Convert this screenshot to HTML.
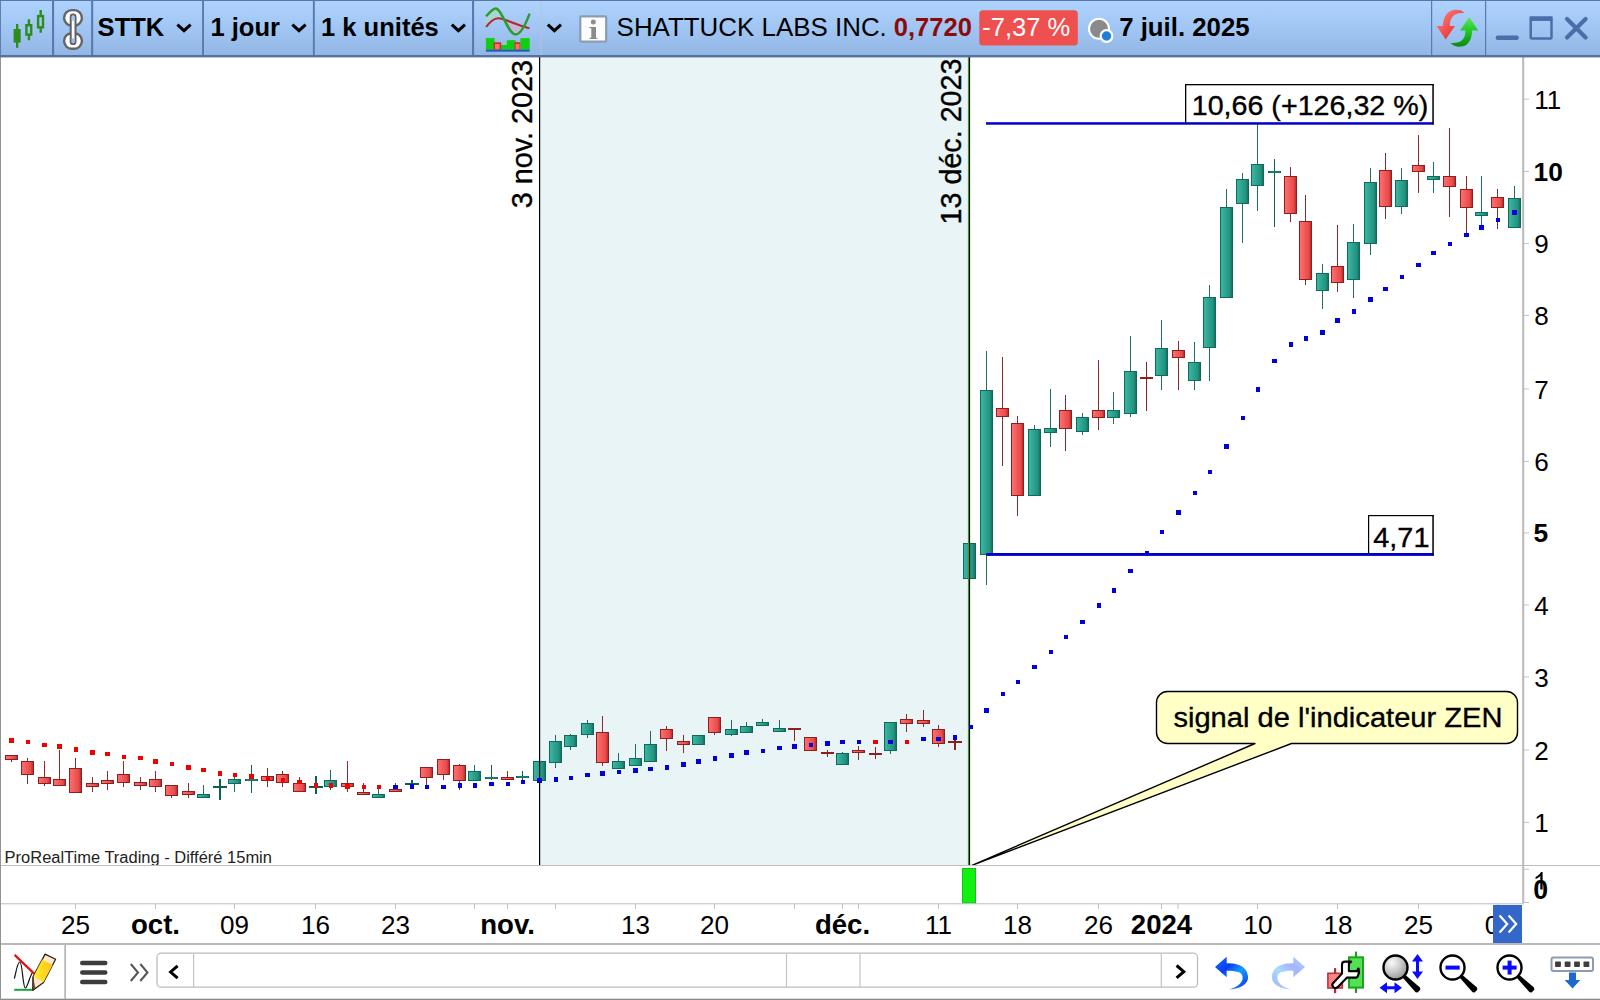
<!DOCTYPE html>
<html><head><meta charset="utf-8"><title>STTK</title>
<style>
html,body{margin:0;padding:0;background:#fff;width:1600px;height:1000px;overflow:hidden}
svg{display:block;position:absolute;left:0;top:0}
text{font-family:"Liberation Sans",sans-serif;}
.hv{stroke:#000;stroke-width:0.35px}
</style></head><body>
<svg width="1600" height="1000" viewBox="0 0 1600 1000">
<defs>
<linearGradient id="tb" x1="0" y1="0" x2="0" y2="1"><stop offset="0" stop-color="#aed3fd"/><stop offset="0.45" stop-color="#a2c7f4"/><stop offset="1" stop-color="#91b6e4"/></linearGradient>
<linearGradient id="gr" x1="0" y1="0" x2="1" y2="0"><stop offset="0" stop-color="#ff7070"/><stop offset="0.78" stop-color="#e64a4a"/><stop offset="1" stop-color="#b82020"/></linearGradient>
<linearGradient id="gg" x1="0" y1="0" x2="1" y2="0"><stop offset="0" stop-color="#3ab8a4"/><stop offset="0.78" stop-color="#23927f"/><stop offset="1" stop-color="#126a5a"/></linearGradient>
</defs>
<rect x="0" y="0" width="1600" height="1000" fill="#fff"/>

<rect x="540" y="57" width="428" height="808.5" fill="#e8f4f5"/>
<rect x="11" y="755" width="1" height="7" fill="#8b2a2a"/>
<rect x="5.5" y="755.5" width="12" height="4" fill="url(#gr)" stroke="#8e1f1f" stroke-width="1"/>
<rect x="27" y="758" width="1" height="26" fill="#8b2a2a"/>
<rect x="21.5" y="761.5" width="12" height="13" fill="url(#gr)" stroke="#8e1f1f" stroke-width="1"/>
<rect x="44" y="761" width="1" height="25" fill="#8b2a2a"/>
<rect x="38.5" y="777.5" width="12" height="6" fill="url(#gr)" stroke="#8e1f1f" stroke-width="1"/>
<rect x="59" y="750" width="1" height="36" fill="#8b2a2a"/>
<rect x="53.5" y="779.5" width="12" height="6" fill="url(#gr)" stroke="#8e1f1f" stroke-width="1"/>
<rect x="75" y="758" width="1" height="35" fill="#8b2a2a"/>
<rect x="69.5" y="768.5" width="12" height="24" fill="url(#gr)" stroke="#8e1f1f" stroke-width="1"/>
<rect x="92" y="777" width="1" height="15" fill="#8b2a2a"/>
<rect x="86.5" y="783.5" width="12" height="3" fill="url(#gr)" stroke="#8e1f1f" stroke-width="1"/>
<rect x="107" y="771" width="1" height="19" fill="#8b2a2a"/>
<rect x="101.5" y="780.5" width="12" height="3" fill="url(#gr)" stroke="#8e1f1f" stroke-width="1"/>
<rect x="123" y="761" width="1" height="26" fill="#8b2a2a"/>
<rect x="117.5" y="774.5" width="12" height="8" fill="url(#gr)" stroke="#8e1f1f" stroke-width="1"/>
<rect x="140" y="777" width="1" height="13" fill="#8b2a2a"/>
<rect x="134.5" y="782.5" width="12" height="3" fill="url(#gr)" stroke="#8e1f1f" stroke-width="1"/>
<rect x="155" y="771" width="1" height="21" fill="#8b2a2a"/>
<rect x="149.5" y="779.5" width="12" height="7" fill="url(#gr)" stroke="#8e1f1f" stroke-width="1"/>
<rect x="171" y="785" width="1" height="13" fill="#8b2a2a"/>
<rect x="165.5" y="785.5" width="12" height="10" fill="url(#gr)" stroke="#8e1f1f" stroke-width="1"/>
<rect x="188" y="783" width="1" height="15" fill="#8b2a2a"/>
<rect x="182.5" y="791.5" width="12" height="3" fill="url(#gr)" stroke="#8e1f1f" stroke-width="1"/>
<rect x="203" y="785" width="1" height="13" fill="#1a6f61"/>
<rect x="197.5" y="794.5" width="12" height="3" fill="url(#gg)" stroke="#0f6a5b" stroke-width="1"/>
<rect x="219" y="779" width="2" height="21" fill="#0e5f52"/>
<rect x="213" y="786" width="14" height="2" fill="#0e5f52"/>
<rect x="234" y="777" width="1" height="15" fill="#1a6f61"/>
<rect x="228.5" y="779.5" width="12" height="4" fill="url(#gg)" stroke="#0f6a5b" stroke-width="1"/>
<rect x="251" y="765" width="1" height="28" fill="#0e5f52"/>
<rect x="245" y="779" width="13" height="2" fill="#0e5f52"/>
<rect x="246" y="779.6" width="11" height="0.8" fill="#2aa592"/>
<rect x="267" y="768" width="1" height="19" fill="#8b2a2a"/>
<rect x="261.5" y="776.5" width="12" height="4" fill="url(#gr)" stroke="#8e1f1f" stroke-width="1"/>
<rect x="282" y="771" width="1" height="16" fill="#8b2a2a"/>
<rect x="276.5" y="774.5" width="12" height="8" fill="url(#gr)" stroke="#8e1f1f" stroke-width="1"/>
<rect x="299" y="777" width="1" height="15" fill="#8b2a2a"/>
<rect x="293.5" y="783.5" width="12" height="8" fill="url(#gr)" stroke="#8e1f1f" stroke-width="1"/>
<rect x="315" y="776" width="2" height="18" fill="#0e5f52"/>
<rect x="309" y="786" width="14" height="2" fill="#0e5f52"/>
<rect x="330" y="770" width="1" height="20" fill="#1a6f61"/>
<rect x="324.5" y="780.5" width="12" height="6" fill="url(#gg)" stroke="#0f6a5b" stroke-width="1"/>
<rect x="347" y="761" width="1" height="31" fill="#8b2a2a"/>
<rect x="341.5" y="783.5" width="12" height="3" fill="url(#gr)" stroke="#8e1f1f" stroke-width="1"/>
<rect x="363" y="783" width="1" height="12" fill="#8b2a2a"/>
<rect x="357.5" y="792.5" width="12" height="2" fill="url(#gr)" stroke="#8e1f1f" stroke-width="1"/>
<rect x="378" y="786" width="1" height="12" fill="#1a6f61"/>
<rect x="372.5" y="794.5" width="12" height="3" fill="url(#gg)" stroke="#0f6a5b" stroke-width="1"/>
<rect x="395" y="783" width="1" height="9" fill="#8b2a2a"/>
<rect x="389.5" y="789.5" width="12" height="2" fill="url(#gr)" stroke="#8e1f1f" stroke-width="1"/>
<rect x="411" y="780" width="2" height="8" fill="#0e5f52"/>
<rect x="405" y="783" width="14" height="2" fill="#0e5f52"/>
<rect x="426" y="767" width="1" height="19" fill="#8b2a2a"/>
<rect x="420.5" y="767.5" width="12" height="10" fill="url(#gr)" stroke="#8e1f1f" stroke-width="1"/>
<rect x="443" y="759" width="1" height="21" fill="#8b2a2a"/>
<rect x="437.5" y="759.5" width="12" height="15" fill="url(#gr)" stroke="#8e1f1f" stroke-width="1"/>
<rect x="459" y="764" width="1" height="26" fill="#8b2a2a"/>
<rect x="453.5" y="765.5" width="12" height="15" fill="url(#gr)" stroke="#8e1f1f" stroke-width="1"/>
<rect x="474" y="765" width="1" height="16" fill="#1a6f61"/>
<rect x="468.5" y="771.5" width="12" height="9" fill="url(#gg)" stroke="#0f6a5b" stroke-width="1"/>
<rect x="491" y="765" width="1" height="15" fill="#0e5f52"/>
<rect x="485" y="777" width="13" height="2" fill="#0e5f52"/>
<rect x="486" y="777.6" width="11" height="0.8" fill="#2aa592"/>
<rect x="507" y="771" width="1" height="9" fill="#8b2a2a"/>
<rect x="501.5" y="777.5" width="12" height="2" fill="url(#gr)" stroke="#8e1f1f" stroke-width="1"/>
<rect x="522" y="771" width="1" height="9" fill="#0e5f52"/>
<rect x="516" y="776" width="13" height="2" fill="#0e5f52"/>
<rect x="517" y="776.6" width="11" height="0.8" fill="#2aa592"/>
<rect x="539" y="761" width="1" height="20" fill="#1a6f61"/>
<rect x="533.5" y="761.5" width="12" height="19" fill="url(#gg)" stroke="#0f6a5b" stroke-width="1"/>
<rect x="555" y="735" width="1" height="33" fill="#1a6f61"/>
<rect x="549.5" y="741.5" width="12" height="21" fill="url(#gg)" stroke="#0f6a5b" stroke-width="1"/>
<rect x="570" y="734" width="1" height="16" fill="#1a6f61"/>
<rect x="564.5" y="735.5" width="12" height="11" fill="url(#gg)" stroke="#0f6a5b" stroke-width="1"/>
<rect x="587" y="720" width="1" height="18" fill="#1a6f61"/>
<rect x="581.5" y="723.5" width="12" height="11" fill="url(#gg)" stroke="#0f6a5b" stroke-width="1"/>
<rect x="602" y="716" width="1" height="50" fill="#8b2a2a"/>
<rect x="596.5" y="732.5" width="12" height="30" fill="url(#gr)" stroke="#8e1f1f" stroke-width="1"/>
<rect x="618" y="753" width="1" height="16" fill="#1a6f61"/>
<rect x="612.5" y="761.5" width="12" height="7" fill="url(#gg)" stroke="#0f6a5b" stroke-width="1"/>
<rect x="635" y="744" width="1" height="22" fill="#1a6f61"/>
<rect x="629.5" y="758.5" width="12" height="7" fill="url(#gg)" stroke="#0f6a5b" stroke-width="1"/>
<rect x="650" y="731" width="1" height="31" fill="#1a6f61"/>
<rect x="644.5" y="744.5" width="12" height="17" fill="url(#gg)" stroke="#0f6a5b" stroke-width="1"/>
<rect x="666" y="726" width="1" height="25" fill="#8b2a2a"/>
<rect x="660.5" y="729.5" width="12" height="9" fill="url(#gr)" stroke="#8e1f1f" stroke-width="1"/>
<rect x="683" y="735" width="1" height="18" fill="#8b2a2a"/>
<rect x="677.5" y="741.5" width="12" height="3" fill="url(#gr)" stroke="#8e1f1f" stroke-width="1"/>
<rect x="698" y="735" width="1" height="10" fill="#1a6f61"/>
<rect x="692.5" y="735.5" width="12" height="9" fill="url(#gg)" stroke="#0f6a5b" stroke-width="1"/>
<rect x="714" y="717" width="1" height="18" fill="#8b2a2a"/>
<rect x="708.5" y="717.5" width="12" height="15" fill="url(#gr)" stroke="#8e1f1f" stroke-width="1"/>
<rect x="731" y="720" width="1" height="16" fill="#1a6f61"/>
<rect x="725.5" y="729.5" width="12" height="5" fill="url(#gg)" stroke="#0f6a5b" stroke-width="1"/>
<rect x="746" y="722" width="1" height="11" fill="#1a6f61"/>
<rect x="740.5" y="726.5" width="12" height="6" fill="url(#gg)" stroke="#0f6a5b" stroke-width="1"/>
<rect x="762" y="719" width="1" height="7" fill="#1a6f61"/>
<rect x="756.5" y="722.5" width="12" height="3" fill="url(#gg)" stroke="#0f6a5b" stroke-width="1"/>
<rect x="779" y="720" width="1" height="12" fill="#1a6f61"/>
<rect x="773.5" y="728.5" width="12" height="3" fill="url(#gg)" stroke="#0f6a5b" stroke-width="1"/>
<rect x="794" y="728" width="1" height="13" fill="#8e1f1f"/>
<rect x="788" y="728" width="13" height="2" fill="#8e1f1f"/>
<rect x="810" y="737" width="1" height="14" fill="#8b2a2a"/>
<rect x="804.5" y="737.5" width="12" height="13" fill="url(#gr)" stroke="#8e1f1f" stroke-width="1"/>
<rect x="827" y="750" width="1" height="7" fill="#8e1f1f"/>
<rect x="821" y="752" width="13" height="2" fill="#8e1f1f"/>
<rect x="842" y="752" width="1" height="13" fill="#1a6f61"/>
<rect x="836.5" y="753.5" width="12" height="11" fill="url(#gg)" stroke="#0f6a5b" stroke-width="1"/>
<rect x="858" y="746" width="1" height="14" fill="#8b2a2a"/>
<rect x="852.5" y="750.5" width="12" height="2" fill="url(#gr)" stroke="#8e1f1f" stroke-width="1"/>
<rect x="875" y="747" width="1" height="12" fill="#8e1f1f"/>
<rect x="869" y="753" width="13" height="2" fill="#8e1f1f"/>
<rect x="890" y="722" width="1" height="32" fill="#1a6f61"/>
<rect x="884.5" y="722.5" width="12" height="28" fill="url(#gg)" stroke="#0f6a5b" stroke-width="1"/>
<rect x="906" y="714" width="1" height="18" fill="#8b2a2a"/>
<rect x="900.5" y="719.5" width="12" height="4" fill="url(#gr)" stroke="#8e1f1f" stroke-width="1"/>
<rect x="923" y="710" width="1" height="17" fill="#8b2a2a"/>
<rect x="917.5" y="720.5" width="12" height="3" fill="url(#gr)" stroke="#8e1f1f" stroke-width="1"/>
<rect x="938" y="725" width="1" height="22" fill="#8b2a2a"/>
<rect x="932.5" y="729.5" width="12" height="14" fill="url(#gr)" stroke="#8e1f1f" stroke-width="1"/>
<rect x="954" y="739" width="2" height="11" fill="#8e1f1f"/>
<rect x="948" y="741" width="14" height="2" fill="#8e1f1f"/>
<rect x="969" y="543" width="1" height="36" fill="#1a6f61"/>
<rect x="963.5" y="543.5" width="12" height="35" fill="url(#gg)" stroke="#0f6a5b" stroke-width="1"/>
<rect x="986" y="351" width="1" height="234" fill="#1a6f61"/>
<rect x="980.5" y="390.5" width="12" height="164" fill="url(#gg)" stroke="#0f6a5b" stroke-width="1"/>
<rect x="1002" y="357" width="1" height="109" fill="#8b2a2a"/>
<rect x="996.5" y="408.5" width="12" height="8" fill="url(#gr)" stroke="#8e1f1f" stroke-width="1"/>
<rect x="1017" y="416" width="1" height="100" fill="#8b2a2a"/>
<rect x="1011.5" y="423.5" width="12" height="72" fill="url(#gr)" stroke="#8e1f1f" stroke-width="1"/>
<rect x="1034" y="425" width="1" height="71" fill="#1a6f61"/>
<rect x="1028.5" y="429.5" width="12" height="66" fill="url(#gg)" stroke="#0f6a5b" stroke-width="1"/>
<rect x="1050" y="389" width="1" height="58" fill="#1a6f61"/>
<rect x="1044.5" y="428.5" width="12" height="4" fill="url(#gg)" stroke="#0f6a5b" stroke-width="1"/>
<rect x="1065" y="395" width="1" height="56" fill="#8b2a2a"/>
<rect x="1059.5" y="410.5" width="12" height="18" fill="url(#gr)" stroke="#8e1f1f" stroke-width="1"/>
<rect x="1082" y="413" width="1" height="22" fill="#1a6f61"/>
<rect x="1076.5" y="417.5" width="12" height="14" fill="url(#gg)" stroke="#0f6a5b" stroke-width="1"/>
<rect x="1098" y="360" width="1" height="70" fill="#8b2a2a"/>
<rect x="1092.5" y="410.5" width="12" height="7" fill="url(#gr)" stroke="#8e1f1f" stroke-width="1"/>
<rect x="1113" y="392" width="1" height="32" fill="#1a6f61"/>
<rect x="1107.5" y="410.5" width="12" height="7" fill="url(#gg)" stroke="#0f6a5b" stroke-width="1"/>
<rect x="1130" y="336" width="1" height="81" fill="#1a6f61"/>
<rect x="1124.5" y="371.5" width="12" height="42" fill="url(#gg)" stroke="#0f6a5b" stroke-width="1"/>
<rect x="1146" y="362" width="1" height="49" fill="#8e1f1f"/>
<rect x="1140" y="377" width="13" height="2" fill="#8e1f1f"/>
<rect x="1161" y="320" width="1" height="70" fill="#1a6f61"/>
<rect x="1155.5" y="348.5" width="12" height="27" fill="url(#gg)" stroke="#0f6a5b" stroke-width="1"/>
<rect x="1178" y="341" width="1" height="49" fill="#8b2a2a"/>
<rect x="1172.5" y="350.5" width="12" height="7" fill="url(#gr)" stroke="#8e1f1f" stroke-width="1"/>
<rect x="1194" y="342" width="1" height="48" fill="#1a6f61"/>
<rect x="1188.5" y="362.5" width="12" height="18" fill="url(#gg)" stroke="#0f6a5b" stroke-width="1"/>
<rect x="1209" y="285" width="1" height="96" fill="#1a6f61"/>
<rect x="1203.5" y="297.5" width="12" height="50" fill="url(#gg)" stroke="#0f6a5b" stroke-width="1"/>
<rect x="1226" y="189" width="1" height="109" fill="#1a6f61"/>
<rect x="1220.5" y="207.5" width="12" height="90" fill="url(#gg)" stroke="#0f6a5b" stroke-width="1"/>
<rect x="1242" y="173" width="1" height="70" fill="#1a6f61"/>
<rect x="1236.5" y="179.5" width="12" height="24" fill="url(#gg)" stroke="#0f6a5b" stroke-width="1"/>
<rect x="1257" y="124" width="1" height="87" fill="#1a6f61"/>
<rect x="1251.5" y="164.5" width="12" height="21" fill="url(#gg)" stroke="#0f6a5b" stroke-width="1"/>
<rect x="1274" y="159" width="1" height="68" fill="#0e5f52"/>
<rect x="1268" y="171" width="13" height="2" fill="#0e5f52"/>
<rect x="1269" y="171.6" width="11" height="0.8" fill="#2aa592"/>
<rect x="1290" y="167" width="1" height="55" fill="#8b2a2a"/>
<rect x="1284.5" y="176.5" width="12" height="37" fill="url(#gr)" stroke="#8e1f1f" stroke-width="1"/>
<rect x="1305" y="195" width="1" height="90" fill="#8b2a2a"/>
<rect x="1299.5" y="221.5" width="12" height="58" fill="url(#gr)" stroke="#8e1f1f" stroke-width="1"/>
<rect x="1322" y="264" width="1" height="45" fill="#1a6f61"/>
<rect x="1316.5" y="273.5" width="12" height="17" fill="url(#gg)" stroke="#0f6a5b" stroke-width="1"/>
<rect x="1337" y="225" width="1" height="67" fill="#8b2a2a"/>
<rect x="1331.5" y="266.5" width="12" height="16" fill="url(#gr)" stroke="#8e1f1f" stroke-width="1"/>
<rect x="1353" y="224" width="1" height="74" fill="#1a6f61"/>
<rect x="1347.5" y="242.5" width="12" height="37" fill="url(#gg)" stroke="#0f6a5b" stroke-width="1"/>
<rect x="1370" y="168" width="1" height="87" fill="#1a6f61"/>
<rect x="1364.5" y="182.5" width="12" height="61" fill="url(#gg)" stroke="#0f6a5b" stroke-width="1"/>
<rect x="1385" y="153" width="1" height="66" fill="#8b2a2a"/>
<rect x="1379.5" y="170.5" width="12" height="36" fill="url(#gr)" stroke="#8e1f1f" stroke-width="1"/>
<rect x="1401" y="168" width="1" height="46" fill="#1a6f61"/>
<rect x="1395.5" y="180.5" width="12" height="26" fill="url(#gg)" stroke="#0f6a5b" stroke-width="1"/>
<rect x="1418" y="135" width="1" height="58" fill="#8b2a2a"/>
<rect x="1412.5" y="165.5" width="12" height="6" fill="url(#gr)" stroke="#8e1f1f" stroke-width="1"/>
<rect x="1433" y="162" width="1" height="31" fill="#1a6f61"/>
<rect x="1427.5" y="176.5" width="12" height="3" fill="url(#gg)" stroke="#0f6a5b" stroke-width="1"/>
<rect x="1449" y="128" width="1" height="89" fill="#8b2a2a"/>
<rect x="1443.5" y="176.5" width="12" height="10" fill="url(#gr)" stroke="#8e1f1f" stroke-width="1"/>
<rect x="1466" y="176" width="1" height="58" fill="#8b2a2a"/>
<rect x="1460.5" y="189.5" width="12" height="18" fill="url(#gr)" stroke="#8e1f1f" stroke-width="1"/>
<rect x="1481" y="176" width="1" height="50" fill="#1a6f61"/>
<rect x="1475.5" y="212.5" width="12" height="3" fill="url(#gg)" stroke="#0f6a5b" stroke-width="1"/>
<rect x="1497" y="189" width="1" height="40" fill="#8b2a2a"/>
<rect x="1491.5" y="197.5" width="12" height="10" fill="url(#gr)" stroke="#8e1f1f" stroke-width="1"/>
<rect x="1514" y="186" width="1" height="42" fill="#1a6f61"/>
<rect x="1508.5" y="198.5" width="12" height="29" fill="url(#gg)" stroke="#0f6a5b" stroke-width="1"/>
<rect x="539" y="57" width="1.2" height="808" fill="#000"/>
<rect x="967.9" y="57" width="1.2" height="808" fill="#5a9a48"/><rect x="968.9" y="57" width="1.2" height="808" fill="#021402"/>
<rect x="986" y="122.2" width="447.5" height="2.5" fill="#0000cd"/>
<rect x="986" y="553" width="447.5" height="2.9" fill="#0000cd"/>
<rect x="9" y="738" width="5" height="5" fill="#f20000"/>
<rect x="26" y="740" width="4" height="4" fill="#f20000"/>
<rect x="42" y="743" width="5" height="4" fill="#f20000"/>
<rect x="57" y="744" width="5" height="5" fill="#f20000"/>
<rect x="74" y="747" width="4" height="5" fill="#f20000"/>
<rect x="90" y="750" width="5" height="5" fill="#f20000"/>
<rect x="105" y="752" width="5" height="4" fill="#f20000"/>
<rect x="122" y="755" width="4" height="4" fill="#f20000"/>
<rect x="138" y="756" width="5" height="4" fill="#f20000"/>
<rect x="153" y="759" width="5" height="5" fill="#f20000"/>
<rect x="170" y="762" width="4" height="4" fill="#f20000"/>
<rect x="186" y="765" width="5" height="5" fill="#f20000"/>
<rect x="201" y="768" width="5" height="4" fill="#f20000"/>
<rect x="218" y="771" width="4" height="5" fill="#f20000"/>
<rect x="233" y="773" width="4" height="4" fill="#f20000"/>
<rect x="249" y="774" width="5" height="5" fill="#f20000"/>
<rect x="266" y="777" width="4" height="4" fill="#f20000"/>
<rect x="281" y="778" width="4" height="5" fill="#f20000"/>
<rect x="297" y="780" width="5" height="4" fill="#f20000"/>
<rect x="314" y="783" width="4" height="5" fill="#f20000"/>
<rect x="329" y="783" width="4" height="5" fill="#f20000"/>
<rect x="345" y="784" width="5" height="5" fill="#f20000"/>
<rect x="362" y="785" width="4" height="4" fill="#f20000"/>
<rect x="377" y="785" width="4" height="4" fill="#f20000"/>
<rect x="393" y="785" width="5" height="4" fill="#0000dc"/>
<rect x="410" y="784" width="4" height="5" fill="#0000dc"/>
<rect x="425" y="785" width="4" height="4" fill="#0000dc"/>
<rect x="441" y="785" width="5" height="4" fill="#0000dc"/>
<rect x="458" y="783" width="4" height="5" fill="#0000dc"/>
<rect x="473" y="783" width="4" height="5" fill="#0000dc"/>
<rect x="489" y="782" width="5" height="4" fill="#0000dc"/>
<rect x="506" y="782" width="4" height="4" fill="#0000dc"/>
<rect x="521" y="780" width="4" height="4" fill="#0000dc"/>
<rect x="537" y="778" width="5" height="5" fill="#0000dc"/>
<rect x="554" y="777" width="4" height="5" fill="#0000dc"/>
<rect x="569" y="776" width="4" height="4" fill="#0000dc"/>
<rect x="585" y="773" width="5" height="4" fill="#0000dc"/>
<rect x="600" y="771" width="5" height="5" fill="#0000dc"/>
<rect x="617" y="770" width="4" height="4" fill="#0000dc"/>
<rect x="633" y="768" width="5" height="5" fill="#0000dc"/>
<rect x="648" y="767" width="5" height="4" fill="#0000dc"/>
<rect x="665" y="765" width="4" height="5" fill="#0000dc"/>
<rect x="681" y="762" width="5" height="5" fill="#0000dc"/>
<rect x="696" y="759" width="5" height="5" fill="#0000dc"/>
<rect x="713" y="756" width="4" height="5" fill="#0000dc"/>
<rect x="729" y="753" width="5" height="5" fill="#0000dc"/>
<rect x="744" y="750" width="5" height="5" fill="#0000dc"/>
<rect x="761" y="749" width="4" height="4" fill="#0000dc"/>
<rect x="777" y="746" width="5" height="4" fill="#0000dc"/>
<rect x="792" y="744" width="5" height="5" fill="#0000dc"/>
<rect x="809" y="743" width="4" height="4" fill="#0000dc"/>
<rect x="825" y="741" width="5" height="5" fill="#0000dc"/>
<rect x="840" y="740" width="5" height="4" fill="#0000dc"/>
<rect x="857" y="740" width="4" height="4" fill="#0000dc"/>
<rect x="873" y="740" width="5" height="4" fill="#f20000"/>
<rect x="888" y="740" width="5" height="4" fill="#0000dc"/>
<rect x="905" y="740" width="4" height="4" fill="#f20000"/>
<rect x="921" y="737" width="5" height="4" fill="#0000dc"/>
<rect x="936" y="737" width="5" height="4" fill="#0000dc"/>
<rect x="953" y="735" width="4" height="5" fill="#0000dc"/>
<rect x="969" y="725" width="4" height="4" fill="#0000dc"/>
<rect x="984" y="708" width="5" height="5" fill="#0000dc"/>
<rect x="1001" y="692" width="4" height="4" fill="#0000dc"/>
<rect x="1016" y="680" width="4" height="4" fill="#0000dc"/>
<rect x="1032" y="665" width="5" height="4" fill="#0000dc"/>
<rect x="1049" y="650" width="4" height="4" fill="#0000dc"/>
<rect x="1064" y="635" width="4" height="4" fill="#0000dc"/>
<rect x="1080" y="620" width="5" height="4" fill="#0000dc"/>
<rect x="1097" y="603" width="4" height="5" fill="#0000dc"/>
<rect x="1112" y="588" width="4" height="5" fill="#0000dc"/>
<rect x="1128" y="569" width="5" height="4" fill="#0000dc"/>
<rect x="1145" y="551" width="4" height="4" fill="#0000dc"/>
<rect x="1160" y="530" width="4" height="4" fill="#0000dc"/>
<rect x="1176" y="510" width="5" height="5" fill="#0000dc"/>
<rect x="1193" y="491" width="4" height="4" fill="#0000dc"/>
<rect x="1208" y="470" width="4" height="4" fill="#0000dc"/>
<rect x="1224" y="444" width="5" height="5" fill="#0000dc"/>
<rect x="1241" y="416" width="4" height="4" fill="#0000dc"/>
<rect x="1256" y="387" width="4" height="5" fill="#0000dc"/>
<rect x="1272" y="359" width="5" height="4" fill="#0000dc"/>
<rect x="1289" y="342" width="4" height="5" fill="#0000dc"/>
<rect x="1304" y="336" width="4" height="5" fill="#0000dc"/>
<rect x="1320" y="330" width="5" height="5" fill="#0000dc"/>
<rect x="1335" y="318" width="5" height="5" fill="#0000dc"/>
<rect x="1352" y="309" width="4" height="5" fill="#0000dc"/>
<rect x="1368" y="297" width="5" height="5" fill="#0000dc"/>
<rect x="1383" y="287" width="5" height="4" fill="#0000dc"/>
<rect x="1400" y="275" width="4" height="4" fill="#0000dc"/>
<rect x="1416" y="263" width="5" height="4" fill="#0000dc"/>
<rect x="1431" y="251" width="5" height="4" fill="#0000dc"/>
<rect x="1448" y="242" width="4" height="4" fill="#0000dc"/>
<rect x="1464" y="233" width="5" height="4" fill="#0000dc"/>
<rect x="1479" y="225" width="5" height="5" fill="#0000dc"/>
<rect x="1496" y="218" width="4" height="4" fill="#0000dc"/>
<rect x="1512" y="210" width="5" height="5" fill="#0000dc"/>
<rect x="1185" y="84" width="1.3" height="39" fill="#000"/><rect x="1185" y="84" width="248.8" height="1.3" fill="#000"/><rect x="1432.3" y="84.2" width="1.5" height="40.4" fill="#000"/>
<rect x="1368" y="515" width="1.2" height="39" fill="#000"/><rect x="1368" y="515" width="65.8" height="1.2" fill="#000"/><rect x="1432.3" y="515" width="1.5" height="40.8" fill="#000"/>
<text transform="translate(1191.7,115.2) scale(1.062,1)" font-size="27.0" font-weight="normal" fill="#000" text-anchor="start" class="hv">10,66 (+126,32 %)</text>
<text transform="translate(1373.3,546.8) scale(1.05,1)" font-size="27.5" font-weight="normal" fill="#000" text-anchor="start" class="hv">4,71</text>
<text transform="translate(531.5,208.2) scale(1.035,1) rotate(-90)" font-size="28.8" class="hv">3 nov. 2023</text>
<text transform="translate(961.2,224.4) scale(1.035,1) rotate(-90)" font-size="28.7" class="hv">13 déc. 2023</text>
<path d="M1167.5 691.5H1506.5a11 11 0 0 1 11 11V732.5a11 11 0 0 1 -11 11H1291.5L972 865.3L1255 743.5H1167.5a11 11 0 0 1 -11 -11V702.5a11 11 0 0 1 11 -11Z" fill="#ffffc6" stroke="#000" stroke-width="1.4" stroke-linejoin="round"/>
<text transform="translate(1173.4,727) scale(1.055,1)" font-size="27.6" font-weight="normal" fill="#000" text-anchor="start" class="hv">signal de l'indicateur ZEN</text>
<text transform="translate(4.6,862.8) scale(1.03,1)" font-size="16" font-weight="normal" fill="#222" text-anchor="start" >ProRealTime Trading - Différé 15min</text>
<rect x="0" y="865" width="1600" height="1" fill="#bdbdbd"/>
<rect x="962.5" y="868.5" width="13" height="34.5" fill="#12f012" stroke="#16c016" stroke-width="1"/>
<rect x="0" y="903.3" width="1524" height="1" fill="#bdbdbd"/>
<rect x="1522.2" y="57" width="2" height="846" fill="#b9b9b9"/>
<rect x="1524" y="98.7" width="5" height="1" fill="#c4c4c4"/>
<text transform="translate(1534.3,108.7) scale(1.035,1)" font-size="25.2" font-weight="normal" fill="#000" text-anchor="start" >11</text>
<rect x="1524" y="170.9" width="5" height="1" fill="#c4c4c4"/>
<text transform="translate(1533.6,180.70000000000002) scale(0.99,1)" font-size="26.6" font-weight="bold" fill="#000" text-anchor="start" >10</text>
<rect x="1524" y="243.1" width="5" height="1" fill="#c4c4c4"/>
<text transform="translate(1534.3,253.1) scale(1.035,1)" font-size="25.2" font-weight="normal" fill="#000" text-anchor="start" >9</text>
<rect x="1524" y="314.9" width="5" height="1" fill="#c4c4c4"/>
<text transform="translate(1534.3,324.9) scale(1.035,1)" font-size="25.2" font-weight="normal" fill="#000" text-anchor="start" >8</text>
<rect x="1524" y="388.5" width="5" height="1" fill="#c4c4c4"/>
<text transform="translate(1534.3,398.5) scale(1.035,1)" font-size="25.2" font-weight="normal" fill="#000" text-anchor="start" >7</text>
<rect x="1524" y="460.9" width="5" height="1" fill="#c4c4c4"/>
<text transform="translate(1534.3,470.9) scale(1.035,1)" font-size="25.2" font-weight="normal" fill="#000" text-anchor="start" >6</text>
<rect x="1524" y="532.5" width="5" height="1" fill="#c4c4c4"/>
<text transform="translate(1533.6,542.3) scale(0.99,1)" font-size="26.6" font-weight="bold" fill="#000" text-anchor="start" >5</text>
<rect x="1524" y="604.5" width="5" height="1" fill="#c4c4c4"/>
<text transform="translate(1534.3,614.5) scale(1.035,1)" font-size="25.2" font-weight="normal" fill="#000" text-anchor="start" >4</text>
<rect x="1524" y="676.5" width="5" height="1" fill="#c4c4c4"/>
<text transform="translate(1534.3,686.5) scale(1.035,1)" font-size="25.2" font-weight="normal" fill="#000" text-anchor="start" >3</text>
<rect x="1524" y="749.5" width="5" height="1" fill="#c4c4c4"/>
<text transform="translate(1534.3,759.5) scale(1.035,1)" font-size="25.2" font-weight="normal" fill="#000" text-anchor="start" >2</text>
<rect x="1524" y="821.9" width="5" height="1" fill="#c4c4c4"/>
<text transform="translate(1534.3,831.9) scale(1.035,1)" font-size="25.2" font-weight="normal" fill="#000" text-anchor="start" >1</text>
<rect x="1524" y="868.8" width="5" height="1" fill="#c4c4c4"/>
<rect x="1524" y="902" width="5" height="1" fill="#c4c4c4"/>
<path d="M1542.6 872V889.6H1540.3V875.9C1539 877.3 1537.3 878.4 1535.6 879.1V876.9C1538 875.8 1540 874 1541 872Z" fill="#000"/>
<text transform="translate(1533.2,898.9) scale(0.97,1)" font-size="27.6" font-weight="bold" fill="#000" text-anchor="start" >0</text>
<rect x="75.0" y="904" width="1" height="5" fill="#c4c4c4"/>
<rect x="155.0" y="904" width="1" height="5" fill="#c4c4c4"/>
<rect x="234.0" y="904" width="1" height="5" fill="#c4c4c4"/>
<rect x="315.0" y="904" width="1" height="5" fill="#c4c4c4"/>
<rect x="395.0" y="904" width="1" height="5" fill="#c4c4c4"/>
<rect x="474.0" y="904" width="1" height="5" fill="#c4c4c4"/>
<rect x="507.0" y="904" width="1" height="5" fill="#c4c4c4"/>
<rect x="555.0" y="904" width="1" height="5" fill="#c4c4c4"/>
<rect x="635.0" y="904" width="1" height="5" fill="#c4c4c4"/>
<rect x="714.0" y="904" width="1" height="5" fill="#c4c4c4"/>
<rect x="794.0" y="904" width="1" height="5" fill="#c4c4c4"/>
<rect x="842.0" y="904" width="1" height="5" fill="#c4c4c4"/>
<rect x="858.0" y="904" width="1" height="5" fill="#c4c4c4"/>
<rect x="938.0" y="904" width="1" height="5" fill="#c4c4c4"/>
<rect x="1017.0" y="904" width="1" height="5" fill="#c4c4c4"/>
<rect x="1098.0" y="904" width="1" height="5" fill="#c4c4c4"/>
<rect x="1161.0" y="904" width="1" height="5" fill="#c4c4c4"/>
<rect x="1177.5" y="904" width="1" height="5" fill="#c4c4c4"/>
<rect x="1257.0" y="904" width="1" height="5" fill="#c4c4c4"/>
<rect x="1337.0" y="904" width="1" height="5" fill="#c4c4c4"/>
<rect x="1418.0" y="904" width="1" height="5" fill="#c4c4c4"/>
<rect x="1497.5" y="904" width="1" height="5" fill="#c4c4c4"/>
<text transform="translate(75.5,933.8) scale(1.035,1)" font-size="25.2" font-weight="normal" fill="#000" text-anchor="middle" >25</text>
<text transform="translate(155.5,934) scale(0.985,1)" font-size="28" font-weight="bold" fill="#000" text-anchor="middle" >oct.</text>
<text transform="translate(234.5,933.8) scale(1.035,1)" font-size="25.2" font-weight="normal" fill="#000" text-anchor="middle" >09</text>
<text transform="translate(315.5,933.8) scale(1.035,1)" font-size="25.2" font-weight="normal" fill="#000" text-anchor="middle" >16</text>
<text transform="translate(395.5,933.8) scale(1.035,1)" font-size="25.2" font-weight="normal" fill="#000" text-anchor="middle" >23</text>
<text transform="translate(507.5,934) scale(0.985,1)" font-size="28" font-weight="bold" fill="#000" text-anchor="middle" >nov.</text>
<text transform="translate(635.5,933.8) scale(1.035,1)" font-size="25.2" font-weight="normal" fill="#000" text-anchor="middle" >13</text>
<text transform="translate(714.5,933.8) scale(1.035,1)" font-size="25.2" font-weight="normal" fill="#000" text-anchor="middle" >20</text>
<text transform="translate(842.5,934) scale(0.985,1)" font-size="28" font-weight="bold" fill="#000" text-anchor="middle" >déc.</text>
<text transform="translate(938.5,933.8) scale(1.035,1)" font-size="25.2" font-weight="normal" fill="#000" text-anchor="middle" >11</text>
<text transform="translate(1017.5,933.8) scale(1.035,1)" font-size="25.2" font-weight="normal" fill="#000" text-anchor="middle" >18</text>
<text transform="translate(1098.5,933.8) scale(1.035,1)" font-size="25.2" font-weight="normal" fill="#000" text-anchor="middle" >26</text>
<text transform="translate(1161.5,934) scale(0.985,1)" font-size="28" font-weight="bold" fill="#000" text-anchor="middle" >2024</text>
<text transform="translate(1258,933.8) scale(1.035,1)" font-size="25.2" font-weight="normal" fill="#000" text-anchor="middle" >10</text>
<text transform="translate(1338,933.8) scale(1.035,1)" font-size="25.2" font-weight="normal" fill="#000" text-anchor="middle" >18</text>
<text transform="translate(1418.5,933.8) scale(1.035,1)" font-size="25.2" font-weight="normal" fill="#000" text-anchor="middle" >25</text>
<text transform="translate(1499.3,933.8) scale(1.035,1)" font-size="25.2" font-weight="normal" fill="#000" text-anchor="middle" >01</text>
<rect x="1493" y="905" width="29" height="38" fill="#3367c9"/>
<path d="M1499.6 915.4L1507.2 924L1499.6 932.6M1508.6 915.4L1516.2 924L1508.6 932.6" fill="none" stroke="#fff" stroke-width="2.2"/>
<rect x="0" y="943" width="1600" height="2" fill="#b8b8b8"/>
<defs><linearGradient id="und" x1="0" y1="0" x2="1" y2="1"><stop offset="0" stop-color="#0a78ff"/><stop offset="0.35" stop-color="#0a3cf5"/><stop offset="0.6" stop-color="#12a0ff"/><stop offset="1" stop-color="#0a28e0"/></linearGradient><linearGradient id="red" x1="1" y1="0" x2="0" y2="1"><stop offset="0" stop-color="#a6d4ff"/><stop offset="0.35" stop-color="#a6b4ff"/><stop offset="0.6" stop-color="#a6dcff"/><stop offset="1" stop-color="#a8b0f0"/></linearGradient><radialGradient id="glass" cx="0.35" cy="0.3" r="0.8"><stop offset="0" stop-color="#fafafa"/><stop offset="0.5" stop-color="#c8c8c8"/><stop offset="1" stop-color="#8c8c8c"/></radialGradient><linearGradient id="pen" x1="0" y1="0" x2="1" y2="0"><stop offset="0" stop-color="#fff03c"/><stop offset="0.5" stop-color="#ffd91e"/><stop offset="1" stop-color="#ffc21e"/></linearGradient></defs>
<rect x="0" y="945" width="1600" height="55" fill="#fff"/>
<rect x="0" y="998.7" width="1600" height="1.3" fill="#8a8a8a"/>
<rect x="0" y="57" width="1" height="943" fill="#929292"/>
<rect x="64.3" y="945" width="1.7" height="54" fill="#b6b6b6"/>
<path d="M14.4 978.6C16 972 17.5 962 19.8 962C22.5 962 22.8 987.9 25.3 987.9C27.5 987.9 29.5 976.5 32.5 972.5" fill="none" stroke="#111" stroke-width="1.2"/>
<path d="M14.6 954.9L34.4 973.9" stroke="#e01212" stroke-width="2.2"/>
<path d="M14.2 989.8H33" stroke="#19a33a" stroke-width="2"/>
<path d="M45.1 954.1L55.6 959.3L43.5 982.4L32.9 990.2L33 976.9Z" fill="#ffe8d0" stroke="#2a1a08" stroke-width="1.2" stroke-linejoin="round"/>
<path d="M42.3 959.6L52.6 964.9L43.6 981.9L33.5 976.4Z" fill="url(#pen)"/>
<path d="M33 977L32.9 990.2L35.5 988.3" fill="#7a5a3a" stroke="#2a1a08" stroke-width="0.8"/>
<path d="M82.3 963H105.2" stroke="#3c3c3c" stroke-width="4.6" stroke-linecap="round"/>
<path d="M82.3 972.5H105.2" stroke="#3c3c3c" stroke-width="4.6" stroke-linecap="round"/>
<path d="M82.3 982H105.2" stroke="#3c3c3c" stroke-width="4.6" stroke-linecap="round"/>
<path d="M130.8 964L138 972.5L130.8 981M140.3 964L147.5 972.5L140.3 981" fill="none" stroke="#555" stroke-width="2"/>
<rect x="157" y="953.2" width="1040.5" height="34" rx="4" fill="#fff" stroke="#bcbcbc" stroke-width="1.3"/>
<rect x="193.0" y="953.2" width="1.2" height="34" fill="#c4c4c4"/>
<rect x="785.9" y="953.2" width="1.2" height="34" fill="#c4c4c4"/>
<rect x="859.4" y="953.2" width="1.2" height="34" fill="#c4c4c4"/>
<rect x="1160.7" y="953.2" width="1.2" height="34" fill="#c4c4c4"/>
<path d="M177.6 965.8L170.6 972L177.6 978.2" fill="none" stroke="#000" stroke-width="3"/>
<path d="M1176.6 965.5L1183.8 971.7L1176.6 977.9" fill="none" stroke="#000" stroke-width="3"/>
<path d="M1215 967L1226.7 956.7V963.2C1236 963 1247.5 965.5 1248 977C1248.3 984.5 1240 989 1229 989.4C1237 987.5 1243 983 1242.6 977C1242.2 972 1236 970.8 1226.7 970.8V977.3Z" fill="url(#und)"/>
<path d="M1305 967L1293.3 956.7V963.2C1284 963 1272.5 965.5 1272 977C1271.7 984.5 1280 989 1291 989.4C1283 987.5 1277 983 1277.4 977C1277.8 972 1284 970.8 1293.3 970.8V977.3Z" fill="url(#red)"/>
<rect x="1334" y="968.1" width="2.2" height="25" fill="#b0283c"/><rect x="1327.9" y="973.3" width="14.4" height="14.7" fill="#ff8484" stroke="#b8343e" stroke-width="1.6"/>
<rect x="1354.9" y="951.6" width="2.2" height="41.3" fill="#1f9a1f"/><rect x="1349" y="957.3" width="14" height="30.3" fill="#54e054" stroke="#1aa51a" stroke-width="2"/>
<path d="M1333 983.2L1342 973.6V964.5C1342 962.6 1343.5 961.6 1345 961.6H1351.2L1348.9 963.5V971.1H1357.8V968.7L1358.6 968.6C1359.3 972 1358.8 975.5 1356.6 977.6H1347L1338.4 986.6C1336.6 988.4 1334.6 988.4 1333.4 987.2C1332.2 986 1332 984.4 1333 983.2Z" fill="#fff" stroke="#000" stroke-width="2.1" stroke-linejoin="round"/>
<path d="M1402.8 977.8L1415.6 992.2L1417.6 992.4L1420.3 989.7L1420.0 987.6L1405.4 975.0Z" fill="#000"/>
<circle cx="1395.5" cy="967.5" r="12" fill="url(#glass)" stroke="#000" stroke-width="2.4"/>
<path d="M1459.8 977.8L1472.6 992.2L1474.6 992.4L1477.3 989.7L1477.0 987.6L1462.4 975.0Z" fill="#000"/>
<circle cx="1452.5" cy="967.5" r="12" fill="#fff" stroke="#000" stroke-width="2.4"/>
<path d="M1516.8 977.8L1529.6 992.2L1531.6 992.4L1534.3 989.7L1534.0 987.6L1519.4 975.0Z" fill="#000"/>
<circle cx="1509.5" cy="967.5" r="12" fill="#fff" stroke="#000" stroke-width="2.4"/>
<path d="M1417.5 954L1423 961.5H1419V971.5H1423L1417.5 979L1412 971.5H1416V961.5H1412Z" fill="#0a0aff"/>
<path d="M1379.5 987.7L1387 982.2V986.2H1394.5V982.2L1402 987.7L1394.5 993.2V989.2H1387V993.2Z" fill="#0a0aff"/>
<rect x="1445.5" y="965.6" width="14.2" height="4" fill="#0a0aff"/>
<rect x="1502.6" y="965.6" width="14" height="4" fill="#0a0aff"/><rect x="1507.6" y="960.6" width="4" height="14" fill="#0a0aff"/>
<rect x="1551.5" y="957.5" width="41.5" height="13.5" rx="2" fill="#fff" stroke="#8b9cb0" stroke-width="2"/>
<rect x="1555.1" y="961.5" width="5.8" height="5.6" rx="0.8" fill="#3e3e3e"/>
<rect x="1564.6999999999998" y="961.5" width="5.8" height="5.6" rx="0.8" fill="#3e3e3e"/>
<rect x="1574.1" y="961.5" width="5.8" height="5.6" rx="0.8" fill="#3e3e3e"/>
<rect x="1583.5" y="961.5" width="5.8" height="5.6" rx="0.8" fill="#3e3e3e"/>
<path d="M1569 972.5H1576V980H1580.3L1572.5 988.5L1564.7 980H1569Z" fill="#1f66d0"/>
<defs><linearGradient id="rda" x1="0" y1="0" x2="1" y2="1"><stop offset="0" stop-color="#ff8a8a"/><stop offset="0.6" stop-color="#f04444"/><stop offset="1" stop-color="#b01c1c"/></linearGradient><linearGradient id="gna" x1="0" y1="0" x2="0" y2="1"><stop offset="0" stop-color="#5fe85f"/><stop offset="0.5" stop-color="#1fc51f"/><stop offset="1" stop-color="#0a8a0a"/></linearGradient></defs>
<rect x="0" y="0" width="1600" height="57" fill="url(#tb)"/>
<rect x="0" y="0" width="1600" height="1" fill="#5877a6"/>
<rect x="0" y="55" width="1600" height="2.4" fill="#53729f"/>
<rect x="0" y="0" width="0.9" height="57" fill="#5877a6"/>
<rect x="52" y="0" width="2.1" height="55" fill="#587ab0"/>
<rect x="91.1" y="0" width="2.1" height="55" fill="#587ab0"/>
<rect x="202.1" y="0" width="1.9" height="55" fill="#587ab0"/>
<rect x="312.9" y="0" width="1.9" height="55" fill="#587ab0"/>
<rect x="472" y="0" width="2.1" height="55" fill="#587ab0"/>
<rect x="1431" y="0" width="1.2" height="55" fill="#587ab0"/>
<rect x="1485" y="0" width="1.2" height="55" fill="#587ab0"/>
<rect x="540.6" y="1" width="1" height="54" fill="#b3c4dc"/>
<rect x="16" y="24" width="2.3" height="23.8" fill="#2d8c1c"/><rect x="13.6" y="29" width="7.1" height="13.6" fill="#2d8c1c"/>
<rect x="27.7" y="19.3" width="2.4" height="5.5" fill="#2d8c1c"/><rect x="27.7" y="35" width="2.4" height="5.3" fill="#2d8c1c"/><rect x="26.4" y="25.2" width="4.8" height="9.4" fill="none" stroke="#2d8c1c" stroke-width="2.4"/>
<rect x="39.5" y="10" width="2.4" height="5.5" fill="#2d8c1c"/><rect x="39.5" y="27.8" width="2.4" height="4.9" fill="#2d8c1c"/><rect x="38.1" y="16.1" width="4.9" height="11.2" fill="none" stroke="#2d8c1c" stroke-width="2.4"/>
<rect x="64.1" y="10.1" width="17.8" height="15.5" rx="7.6" fill="#fff" stroke="#646464" stroke-width="2.4"/>
<rect x="64.1" y="33.2" width="17.8" height="15.5" rx="7.6" fill="#fff" stroke="#646464" stroke-width="2.4"/>
<rect x="70.7" y="14.5" width="4.8" height="29.6" rx="2.4" fill="#fff" stroke="#606060" stroke-width="2"/>
<rect x="71.7" y="15.8" width="2.8" height="5" rx="1" fill="#a6c9f7"/><rect x="71.7" y="38.2" width="2.8" height="5" rx="1" fill="#9abdec"/>
<text transform="translate(97.6,35.7) scale(1.014,1)" font-size="25.2" font-weight="bold" fill="#000">STTK</text>
<text transform="translate(210.4,35.7) scale(1.014,1)" font-size="25.2" font-weight="bold" fill="#000">1 jour</text>
<text transform="translate(321,35.7) scale(1.014,1)" font-size="25.2" font-weight="bold" fill="#000">1 k unités</text>
<text transform="translate(616.6,35.7) scale(1.037,1)" font-size="25" font-weight="normal" fill="#000">SHATTUCK LABS INC.</text>
<text transform="translate(893.8,35.7) scale(1.014,1)" font-size="25.2" font-weight="bold" fill="#8c0a0a">0,7720</text>
<rect x="979.3" y="10.2" width="98.5" height="35.3" rx="3.5" fill="#ee5050"/>
<text transform="translate(982.3,35.7) scale(1.022,1)" font-size="25" font-weight="normal" fill="#fff">-7,37 %</text>
<text transform="translate(1119.2,35.7) scale(1.023,1)" font-size="25.2" font-weight="bold" fill="#000">7 juil. 2025</text>
<path d="M177.4 24.6L184 30.6L190.6 24.6" fill="none" stroke="#000" stroke-width="3.1" stroke-linejoin="miter"/>
<path d="M292.4 24.6L299 30.6L305.6 24.6" fill="none" stroke="#000" stroke-width="3.1" stroke-linejoin="miter"/>
<path d="M451.79999999999995 24.6L458.4 30.6L465.0 24.6" fill="none" stroke="#000" stroke-width="3.1" stroke-linejoin="miter"/>
<path d="M547.8 24.6L554.4 30.6L561.0 24.6" fill="none" stroke="#000" stroke-width="3.1" stroke-linejoin="miter"/>
<path d="M485.9 16.5C490 12 493 8.6 495.6 8.6C499 8.6 501.5 14.5 504.2 19.8C503 19 500.5 18.3 498.2 18.3C494 18.3 489 22 485.9 26.5Z" fill="#a9dcc0" opacity="0.6"/>
<path d="M504.2 19.8C509 29 511.5 34.5 515.6 34.5C519 34.5 521.5 30.5 523.5 26.4C518 24.6 510 21.8 504.2 19.8Z" fill="#d9b3c6" opacity="0.6"/>
<path d="M486.2 27C489 22.5 494 18.3 498.2 18.3C504 18.3 516 25 529.4 28.2" fill="none" stroke="#b8262c" stroke-width="2.1"/>
<path d="M486.2 16.3C490 12 493 8.6 495.6 8.6C502 8.6 508 34.4 515.6 34.4C521 34.4 526.5 22 529.6 13.6" fill="none" stroke="#2a9d2f" stroke-width="2.5"/>
<rect x="485.9" y="38.1" width="8.7" height="11.6" fill="#10cf10"/>
<rect x="500" y="45" width="7.2" height="4.7" fill="#10cf10"/>
<rect x="506.9" y="40.2" width="8.7" height="9.5" fill="#10cf10"/>
<rect x="520.4" y="38.1" width="9.3" height="11.6" fill="#10cf10"/>
<rect x="493.6" y="42.3" width="7.6" height="7.4" fill="#d92626"/><rect x="495" y="44" width="4.6" height="5.5" fill="#ff7070"/>
<rect x="514.6" y="42.3" width="5.7" height="7.4" fill="#d92626"/><rect x="515.6" y="44" width="3.9" height="5.5" fill="#ff7070"/>
<rect x="485.9" y="49.5" width="43.8" height="2.2" fill="#1f62b8"/>
<rect x="580.3" y="16.3" width="25.9" height="25.4" rx="1.2" fill="#fdfdfd" stroke="#8b9cb2" stroke-width="2.2"/>
<circle cx="593.3" cy="22" r="2.5" fill="#8e8e8e"/>
<path d="M589.2 27H596V37.3L597.8 38.9H588.8L591.3 37.3V28.4L589.2 27.8Z" fill="#8a8a8a"/>
<circle cx="1099" cy="28.8" r="10" fill="#8a8a8a" stroke="#fbfdff" stroke-width="2.1"/>
<circle cx="1106.5" cy="36" r="5.8" fill="#1e7ed8" stroke="#fbfdff" stroke-width="2.2"/>
<path d="M1436.6 26.1H1442.9C1443.2 17 1447 10.4 1455.5 9.8C1459.5 9.6 1463 10.8 1464.2 13.2C1459 12.6 1454.5 13.8 1452 17.5C1450.3 20 1449.8 23 1449.8 26.1H1454.9L1445.7 39.6Z" fill="url(#rda)"/>
<path d="M1460 30.4H1465.4C1465.6 36 1463.5 40.5 1458.5 42.2C1455.8 43 1453 43 1450.6 42.9C1452.5 45.2 1456.5 46.9 1461 46.6C1468 46 1472.2 39.5 1472 30.4H1478.3L1469.3 17.1Z" fill="url(#gna)"/>
<path d="M1497.8 37.7H1516.6" stroke="#4a6fa8" stroke-width="4.4" stroke-linecap="round"/>
<rect x="1530.7" y="19.6" width="20.8" height="19" rx="1" fill="none" stroke="#4a6fa8" stroke-width="2.5"/><rect x="1529.5" y="16.3" width="23.2" height="4.4" rx="1" fill="#4a6fa8"/>
<path d="M1567 18.9L1585.6 37.5M1585.6 18.9L1567 37.5" stroke="#4a6fa8" stroke-width="4.2" stroke-linecap="round"/>
</svg></body></html>
